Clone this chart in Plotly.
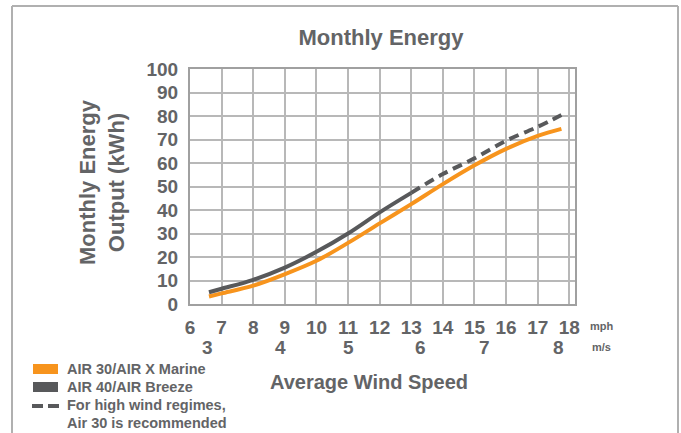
import plotly.graph_objects as go

# ---- data ----
mph_gray = [6.6, 7, 8, 9, 10, 11, 12, 13]
kwh_gray = [5, 6.5, 10.3, 15.5, 22.2, 30, 39, 47.3]
mph_gray_dash = [13, 14, 15, 16, 17, 17.75]
kwh_gray_dash = [47.3, 55.3, 62, 69.5, 75.4, 80.4]
mph_orange = [6.6, 7, 8, 9, 10, 11, 12, 13, 14, 15, 16, 17, 17.75]
kwh_orange = [3.2, 4.5, 7.8, 12.7, 18.4, 26, 34.3, 42.5, 51, 59, 66, 71.5, 74.5]
mph_ticks = list(range(6, 19))
ms_labels = ["3", "4", "5", "6", "7", "8"]
ms_pos_mph = [6.56, 8.85, 11.03, 13.3, 15.33, 17.65]
legend_labels = ["AIR 30/AIR X Marine", "AIR 40/AIR Breeze", "For high wind regimes,", "Air 30 is recommended"]

ORANGE = "#F7941D"
GRAY = "#58595B"
TXT = "#636466"
FONT = "Liberation Sans"

W, H = 681, 433
L, R, T, B = 190, 575, 69, 304  # plot area in page pixels


def px(x):
    return (x - L) / (R - L)


def py(y):
    return (B - y) / (B - T)


fig = go.Figure()
fig.add_trace(go.Scatter(x=mph_orange, y=kwh_orange, mode="lines",
                         line=dict(color=ORANGE, width=4, shape="spline"), showlegend=False))
fig.add_trace(go.Scatter(x=mph_gray, y=kwh_gray, mode="lines",
                         line=dict(color=GRAY, width=4, shape="spline"), showlegend=False))
fig.add_trace(go.Scatter(x=mph_gray_dash, y=kwh_gray_dash, mode="lines",
                         line=dict(color=GRAY, width=4, shape="spline", dash="10px,6px"), showlegend=False))

fig.update_layout(
    width=W, height=H,
    margin=dict(l=L, r=W - R, t=T, b=H - B),
    paper_bgcolor="white", plot_bgcolor="white",
    title=dict(text="Monthly Energy", x=px(381), xref="paper", xanchor="center",
               y=1 - 37 / H, yanchor="middle",
               font=dict(family=FONT, size=22, color=TXT, weight="bold")),
    font=dict(family=FONT, color=TXT),
)
fig.update_xaxes(range=[6, 18.18], tickvals=mph_ticks, ticktext=[str(t) for t in mph_ticks],
                 showgrid=True, gridcolor="#b8b8b8", gridwidth=1.5,
                 showline=True, linecolor="#a0a0a0", linewidth=2, mirror=True,
                 tickfont=dict(family=FONT, size=19, color=TXT, weight="bold"),
                 ticks="", ticklabelstandoff=5, zeroline=False)
fig.update_yaxes(range=[0, 100], tickvals=list(range(0, 101, 10)),
                 showgrid=True, gridcolor="#b8b8b8", gridwidth=1.5,
                 showline=True, linecolor="#a0a0a0", linewidth=2, mirror=True,
                 tickfont=dict(family=FONT, size=19, color=TXT, weight="bold"),
                 ticks="", ticklabelstandoff=6, zeroline=False)

ann = []
for lab, xm in zip(ms_labels, ms_pos_mph):
    ann.append(dict(x=xm, xref="x", y=py(347), yref="paper", text=lab, showarrow=False,
                    font=dict(family=FONT, size=19, color=TXT, weight="bold"),
                    xanchor="center", yanchor="middle"))
ann.append(dict(x=px(588), xref="paper", y=py(326), yref="paper", text="mph", showarrow=False,
                font=dict(family=FONT, size=11, color=TXT, weight="bold"), xanchor="left", yanchor="middle"))
ann.append(dict(x=px(590), xref="paper", y=py(347), yref="paper", text="m/s", showarrow=False,
                font=dict(family=FONT, size=11, color=TXT, weight="bold"), xanchor="left", yanchor="middle"))
ann.append(dict(x=px(369), xref="paper", y=py(382), yref="paper", text="Average Wind Speed",
                showarrow=False, font=dict(family=FONT, size=20, color=TXT, weight="bold"),
                xanchor="center", yanchor="middle"))
ann.append(dict(x=px(102), xref="paper", y=py(182), yref="paper",
                text="Monthly Energy<br>Output (kWh)", textangle=-90, showarrow=False,
                font=dict(family=FONT, size=22, color=TXT, weight="bold"),
                xanchor="center", yanchor="middle"))
leg_y = [369, 387, 405, 423]
for lab, yy in zip(legend_labels, leg_y):
    ann.append(dict(x=px(65), xref="paper", y=py(yy), yref="paper", text=lab, showarrow=False,
                    font=dict(family=FONT, size=14.5, color=TXT, weight="bold"),
                    xanchor="left", yanchor="middle"))
fig.update_layout(annotations=ann)

shapes = [
    # frame
    dict(type="line", xref="paper", yref="paper", x0=px(12), x1=px(12), y0=py(6), y1=py(445),
         line=dict(color="#b0b0b0", width=2)),
    dict(type="line", xref="paper", yref="paper", x0=px(678), x1=px(678), y0=py(6), y1=py(445),
         line=dict(color="#b0b0b0", width=2)),
    dict(type="line", xref="paper", yref="paper", x0=px(12), x1=px(678), y0=py(6), y1=py(6),
         line=dict(color="#b0b0b0", width=2)),
    # legend swatches
    dict(type="rect", xref="paper", yref="paper", x0=px(33), x1=px(58), y0=py(364), y1=py(374),
         fillcolor=ORANGE, line=dict(width=0)),
    dict(type="rect", xref="paper", yref="paper", x0=px(33), x1=px(58), y0=py(382), y1=py(392),
         fillcolor=GRAY, line=dict(width=0)),
    dict(type="line", xref="paper", yref="paper", x0=px(32), x1=px(43), y0=py(406), y1=py(406),
         line=dict(color=GRAY, width=4)),
    dict(type="line", xref="paper", yref="paper", x0=px(48), x1=px(59), y0=py(406), y1=py(406),
         line=dict(color=GRAY, width=4)),
]
fig.update_layout(shapes=shapes)

fig.write_html("out.html",
               config={"displayModeBar": False},
               post_script="document.body.style.margin='0';document.body.style.overflow='hidden';")
